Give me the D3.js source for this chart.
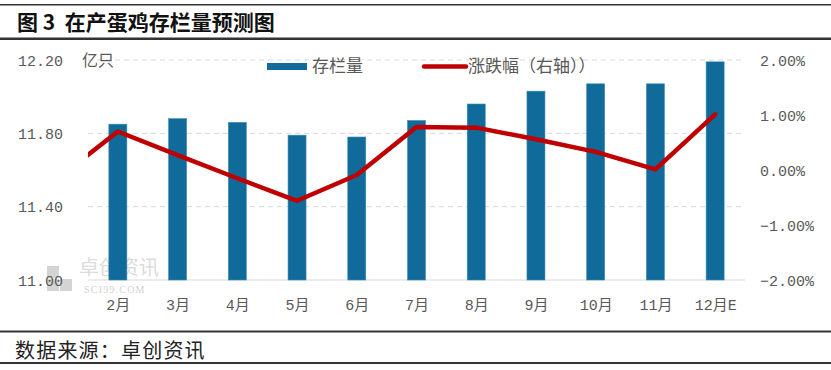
<!DOCTYPE html>
<html><head><meta charset="utf-8">
<script src="https://cdn.jsdelivr.net/npm/d3@7/dist/d3.min.js"></script>
<style>
html,body{margin:0;padding:0;background:#fff;}
svg{display:block;}
</style></head>
<body>
<svg id="c" width="831" height="370"></svg>
<script>
const categories = ["2月","3月","4月","5月","6月","7月","8月","9月","10月","11月","12月E"];
const stock = [11.85, 11.88, 11.86, 11.79, 11.78, 11.87, 11.96, 12.03, 12.07, 12.07, 12.19];
const change = [0.70, 0.27, -0.15, -0.56, -0.09, 0.78, 0.77, 0.56, 0.33, 0.01, 1.01];
const prevChange = -0.15; // 1月 value, clipped off at plot edge
const leftTicks = [11.00, 11.40, 11.80, 12.20];
const rightTicks = [-2, -1, 0, 1, 2];
const title = "图 3  在产蛋鸡存栏量预测图";
const source = "数据来源：卓创资讯";
const unitLabel = "亿只";
const legendNames = ["存栏量", "涨跌幅（右轴））"];

const svg = d3.select("#c");
const L = 88, R = 745, T = 60, B = 280;
const numFont = "'Liberation Mono','Noto Sans CJK SC',monospace";
const cjkFont = "'Noto Sans CJK SC',sans-serif";
const barColor = "#106a9a", lineColor = "#c00000", textColor = "#595959";

// frame lines
svg.append("rect").attr("x",0).attr("y",4).attr("width",831).attr("height",1.5).attr("fill","#333");
svg.append("rect").attr("x",0).attr("y",37.5).attr("width",831).attr("height",2.5).attr("fill","#333");
svg.append("rect").attr("x",0).attr("y",330.5).attr("width",831).attr("height",2).attr("fill","#333");
svg.append("rect").attr("x",0).attr("y",362).attr("width",831).attr("height",2).attr("fill","#333");

svg.append("text").attr("x",17).attr("y",30).attr("font-family",cjkFont).attr("font-weight","bold")
  .attr("font-size",21).attr("fill","#111").attr("xml:space","preserve").text(title);
svg.append("text").attr("x",15).attr("y",358).attr("font-family",cjkFont)
  .attr("font-size",20).attr("letter-spacing",1.2).attr("fill","#222").text(source);

const xc = d3.scalePoint().domain(categories).range([L, R]).padding(0.5);
const yL = d3.scaleLinear().domain([11.0, 12.2]).range([B, T]);
const yR = d3.scaleLinear().domain([-2, 2]).range([B, T]);

// watermark
const wm = svg.append("g");
wm.append("rect").attr("x",47).attr("y",266).attr("width",12).attr("height",12).attr("fill","#d4d4d4");
wm.append("rect").attr("x",47).attr("y",279).attr("width",12).attr("height",12).attr("fill","#d4d4d4");
wm.append("rect").attr("x",60).attr("y",279).attr("width",12).attr("height",12).attr("fill","#d4d4d4");
wm.append("text").attr("x",79).attr("y",275).attr("font-family",cjkFont).attr("font-size",20)
  .attr("fill","#dcdcdc").text("卓创资讯");
wm.append("text").attr("x",84).attr("y",293).attr("font-family","'Liberation Serif',serif").attr("font-size",10)
  .attr("letter-spacing",1.2).attr("fill","#d2d2d2").text("SCI99.COM");

// gridlines
svg.append("g").selectAll("line").data(leftTicks.filter(d => d > 11)).join("line")
  .attr("x1",L).attr("x2",R).attr("y1",d=>yL(d)).attr("y2",d=>yL(d))
  .attr("stroke","#d9d9d9").attr("stroke-width",1).attr("stroke-dasharray","5,4");
svg.append("line").attr("x1",L).attr("x2",R).attr("y1",B).attr("y2",B).attr("stroke","#d9d9d9").attr("stroke-width",1.2);

// left axis labels
const axL = d3.axisLeft(yL).tickValues(leftTicks).tickFormat(d3.format(".2f")).tickSize(0).tickPadding(0);
const gL = svg.append("g").attr("transform",`translate(63,0)`).call(axL);
gL.select(".domain").remove();
gL.selectAll("text").attr("font-family",numFont).attr("font-size",15).attr("fill",textColor).attr("dy","0.35em");

// right axis labels
const axR = d3.axisRight(yR).tickValues(rightTicks).tickFormat(d => d3.format(".2f")(d).replace("-","−") + "%").tickSize(0).tickPadding(0);
const gR = svg.append("g").attr("transform",`translate(760,0)`).call(axR);
gR.select(".domain").remove();
gR.selectAll("text").attr("font-family",numFont).attr("font-size",15).attr("fill",textColor).attr("dy","0.35em");

// x axis labels
const axX = d3.axisBottom(xc).tickSize(0).tickPadding(0);
const gX = svg.append("g").attr("transform",`translate(0,${B+25})`).call(axX);
gX.select(".domain").remove();
gX.selectAll("text").attr("font-family",numFont).attr("font-size",15).attr("fill",textColor).attr("dy","0.35em");

svg.append("text").attr("x",82).attr("y",yL(12.2)).attr("dy","0.35em").attr("font-family",cjkFont)
  .attr("font-size",16).attr("fill",textColor).text(unitLabel);

// bars
svg.append("g").selectAll("rect").data(categories).join("rect")
  .attr("x",(d)=>xc(d)-9).attr("width",18)
  .attr("y",(d,i)=>yL(stock[i])).attr("height",(d,i)=>B-yL(stock[i]))
  .attr("fill",barColor).attr("stroke","#3f8ab5").attr("stroke-width",0.6);

// line
svg.append("clipPath").attr("id","clip").append("rect").attr("x",L).attr("y",0).attr("width",R-L).attr("height",370);
const pts = [[xc(categories[0]) - xc.step(), yR(prevChange)]].concat(categories.map((c,i)=>[xc(c), yR(change[i])]));
svg.append("path").attr("clip-path","url(#clip)").attr("d",d3.line()(pts))
  .attr("fill","none").attr("stroke",lineColor).attr("stroke-width",4.5).attr("stroke-linejoin","round").attr("stroke-linecap","round");

// legend
const lg = svg.append("g");
lg.append("rect").attr("x",267).attr("y",63).attr("width",40).attr("height",7).attr("fill",barColor);
lg.append("text").attr("x",312).attr("y",66.5).attr("dy","0.35em").attr("font-family",cjkFont)
  .attr("font-size",17).attr("fill",textColor).text(legendNames[0]);
lg.append("line").attr("x1",424).attr("x2",466).attr("y1",66.5).attr("y2",66.5)
  .attr("stroke",lineColor).attr("stroke-width",4.5).attr("stroke-linecap","round");
lg.append("text").attr("x",468).attr("y",66.5).attr("dy","0.35em").attr("font-family",cjkFont)
  .attr("font-size",17).attr("fill",textColor).text(legendNames[1]);
</script>
</body></html>
